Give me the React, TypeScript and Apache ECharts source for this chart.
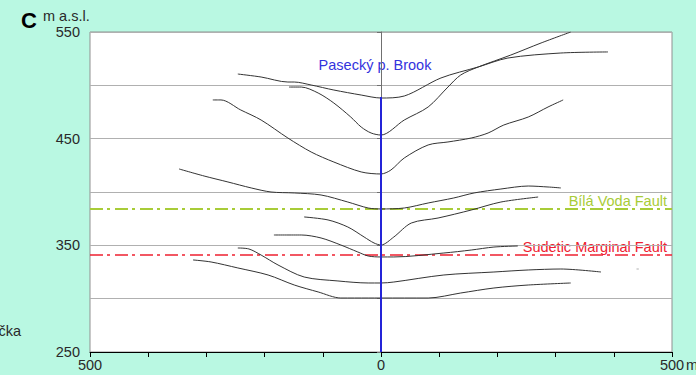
import React, { useEffect, useRef } from "react";
import * as echarts from "echarts";

// Profile curves: [distance (m), elevation (m a.s.l.)]
const profile1: [number, number][] = [
  [-246, 510.6], [-206, 507.8], [-160, 503.1], [-149, 503.1], [-120, 500.3], [-81, 495.6],
  [-34, 490.9], [0, 488.1], [40, 490], [103, 506.9], [167, 517.2], [218, 525.6], [309, 530.3], [390, 531.3],
];
const profile2: [number, number][] = [
  [-158, 498.4], [-137, 498.4], [-108, 492.8], [-81, 483.4], [-52, 470.3], [-34, 460.9],
  [-17, 455.3], [0, 453.4], [40, 467.5], [81, 479.7], [115, 498.4], [137, 509.7], [167, 517.2],
  [223, 528.4], [275, 539.7], [326, 550],
];
const profile3: [number, number][] = [
  [-289, 486.3], [-275, 486.3], [-241, 476.9], [-206, 467.5], [-160, 450.6], [-120, 437.5],
  [-81, 428.1], [-34, 418.8], [0, 416.9], [17, 420.6], [40, 431.9], [81, 444.1], [115, 446.9],
  [155, 450.6], [184, 455.3], [211, 462.8], [253, 470.3], [287, 479.7], [313, 486.3],
];
const profile4: [number, number][] = [
  [-347, 421.6], [-304, 415], [-263, 409.4], [-223, 403.8], [-189, 400], [-149, 399.1],
  [-103, 397.2], [-57, 390.6], [-22, 385], [0, 384.1], [40, 385], [81, 389.7], [125, 394.4],
  [160, 399.1], [206, 402.8], [253, 405.6], [287, 404.7], [309, 403.8],
];
const profile5: [number, number][] = [
  [-132, 376.6], [-91, 373.8], [-57, 367.2], [-29, 357.8], [-12, 352.2], [0, 350.3],
  [22, 357.8], [52, 370.9], [98, 375.6], [155, 383.1], [206, 390.6], [270, 395.3],
];
const profile6: [number, number][] = [
  [-184, 359.7], [-137, 359.7], [-103, 356.9], [-69, 350.3], [-40, 343.8], [-22, 340],
  [0, 339.1], [22, 339.1], [108, 342.8], [155, 345.6], [194, 348.4], [235, 349.4],
];
const profile7: [number, number][] = [
  [-246, 347.5], [-227, 346.6], [-206, 340.9], [-177, 331.6], [-132, 320.3], [-74, 316.6],
  [-22, 314.7], [0, 314.7], [22, 315.6], [108, 322.2], [194, 325], [253, 326.9], [309, 327.8], [378, 325],
];
const profile8: [number, number][] = [
  [-323, 336.3], [-292, 334.4], [-246, 328.8], [-194, 322.2], [-149, 312.8], [-108, 306.3],
  [-69, 300.6], [-22, 300.6], [0, 300.6], [81, 300.6], [137, 305.3], [194, 310], [253, 312.8], [326, 314.7],
];
const profiles = [profile1, profile2, profile3, profile4, profile5, profile6, profile7, profile8];

// tiny stray mark right of the lower profiles
const strayMark: [number, number][] = [[439, 327.8], [443, 327.8]];

const brookLine: [number, number][] = [[0, 250], [0, 489]];
const bilaVodaFault: [number, number][] = [[-500, 384], [500, 384]];
const sudeticFault: [number, number][] = [[-500, 341], [500, 341]];

const xLabels = [-500, 0, 500];
const yLabels = [250, 350, 450, 550];

const FONT = "Liberation Sans, Arial, sans-serif";

export default function App() {
  const ref = useRef<HTMLDivElement>(null);
  useEffect(() => {
    if (!ref.current) return;
    const chart = echarts.init(ref.current, undefined, { renderer: "svg" });
    const lineSeries = profiles.map((p, i) => ({
      type: "line",
      name: "profile" + (i + 1),
      data: p,
      showSymbol: false,
      symbol: "none",
      smooth: 0.3,
      lineStyle: { color: "#333333", width: 1 },
      z: 3,
    }));
    chart.setOption({
      animation: false,
      backgroundColor: "#b9f8e2",
      textStyle: { fontFamily: FONT },
      grid: {
        left: 90,
        right: 24,
        top: 32,
        bottom: 23,
        show: true,
        backgroundColor: "#ffffff",
        borderColor: "#909090",
        borderWidth: 1,
      },
      xAxis: {
        type: "value",
        min: -500,
        max: 500,
        interval: 100,
        axisLine: { show: true, onZero: false, lineStyle: { color: "#000000", width: 1 } },
        axisTick: { show: true, length: 5, lineStyle: { color: "#000000" } },
        splitLine: { show: false },
        axisLabel: {
          margin: 5,
          fontSize: 14.5,
          color: "#2a2a2a",
          fontFamily: FONT,
          formatter: (v: number) => (xLabels.includes(v) ? String(Math.abs(v)) : ""),
        },
      },
      yAxis: {
        type: "value",
        min: 250,
        max: 550,
        interval: 50,
        axisLine: { show: true, lineStyle: { color: "#707070", width: 1 } },
        axisTick: { show: true, length: 4, lineStyle: { color: "#707070" } },
        splitLine: { show: true, lineStyle: { color: "#b0b0b0", width: 1 } },
        axisLabel: {
          margin: 10,
          fontSize: 14.5,
          color: "#2a2a2a",
          fontFamily: FONT,
          formatter: (v: number) => (yLabels.includes(v) ? String(v) : ""),
        },
      },
      series: [
        ...lineSeries,
        {
          type: "line",
          name: "stray",
          data: strayMark,
          symbol: "none",
          lineStyle: { color: "#b0b0b0", width: 1 },
          z: 3,
        },
        {
          type: "line",
          name: "Bílá Voda Fault",
          data: bilaVodaFault,
          symbol: "none",
          lineStyle: { color: "#a8cc38", width: 2, type: [13, 4, 3, 5] },
          z: 2,
        },
        {
          type: "line",
          name: "Sudetic Marginal Fault",
          data: sudeticFault,
          symbol: "none",
          lineStyle: { color: "#ee2030", width: 1.6, type: [13, 4, 3, 5] },
          z: 2,
        },
        {
          type: "line",
          name: "Pasecký p. Brook",
          data: brookLine,
          symbol: "none",
          lineStyle: { color: "#2424d8", width: 2 },
          z: 4,
        },
      ],
      graphic: [
        {
          type: "text",
          left: 21,
          top: 9,
          style: { text: "C", font: "bold 22px " + FONT, fill: "#000000" },
        },
        {
          type: "text",
          left: 43,
          top: 8,
          style: { text: "m a.s.l.", font: "14.5px " + FONT, fill: "#2a2a2a" },
        },
        {
          type: "text",
          x: 686,
          y: 365,
          style: { text: "m", font: "14.5px " + FONT, fill: "#2a2a2a", textAlign: "left", textVerticalAlign: "middle" },
        },
        {
          type: "text",
          x: 375,
          y: 65,
          style: { text: "Pasecký p. Brook", font: "14.5px " + FONT, fill: "#3333dd", textAlign: "center", textVerticalAlign: "middle" },
        },
        {
          type: "text",
          x: 667,
          y: 201,
          style: { text: "Bílá Voda Fault", font: "14.5px " + FONT, fill: "#a8cc38", textAlign: "right", textVerticalAlign: "middle" },
        },
        {
          type: "text",
          x: 667,
          y: 247,
          style: { text: "Sudetic Marginal Fault", font: "14.5px " + FONT, fill: "#ee2030", textAlign: "right", textVerticalAlign: "middle" },
        },
        {
          type: "text",
          x: 21,
          y: 331,
          style: { text: "čka", font: "14.5px " + FONT, fill: "#2a2a2a", textAlign: "right", textVerticalAlign: "middle" },
        },
      ],
    });
    return () => chart.dispose();
  }, []);
  return (
    <div
      ref={ref}
      style={{ position: "absolute", left: 0, top: 0, width: 696, height: 375 }}
    />
  );
}
